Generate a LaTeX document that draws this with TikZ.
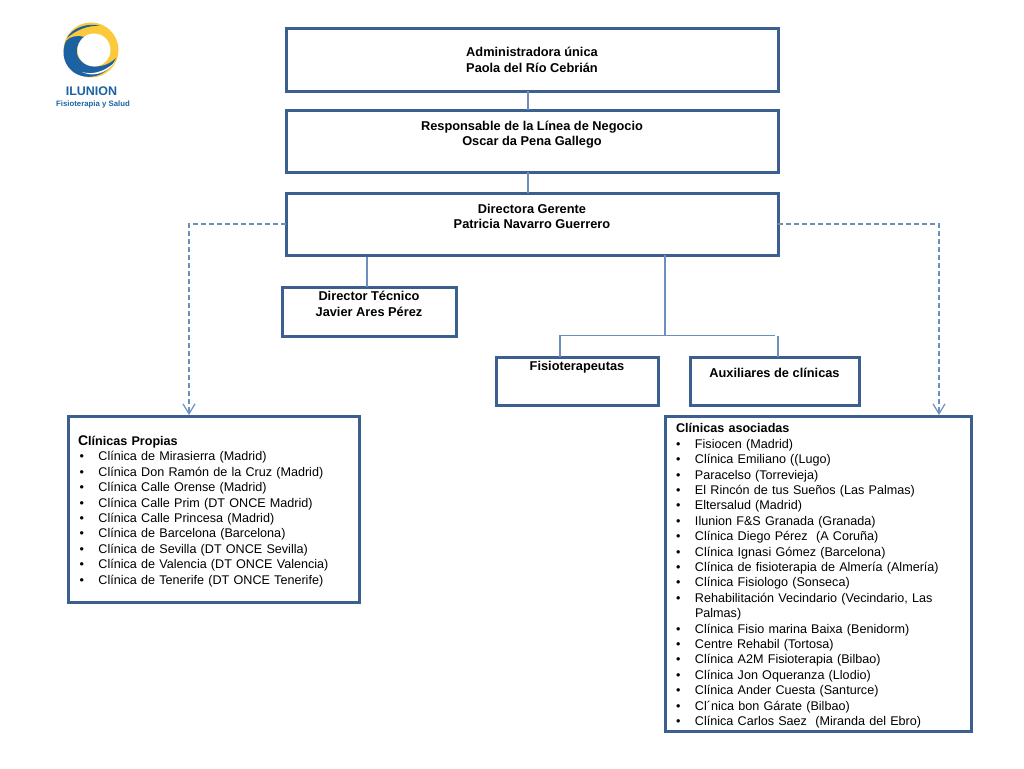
\documentclass[tikz,border=0pt]{standalone}
\usepackage{fontspec}
\setmainfont{Liberation Sans}
\usetikzlibrary{arrows.meta}
\usetikzlibrary{positioning}
\definecolor{boxblue}{HTML}{3B5F8F}
\definecolor{linkblue}{HTML}{6C8FBE}
\definecolor{logoblue}{HTML}{1C62A3}
\definecolor{logoyellow}{HTML}{FBC93A}
\tikzstyle{orgbox}=[draw=boxblue,line width=3pt,align=center,font=\fontsize{12.8}{15.6}\selectfont\bfseries,inner sep=0pt,outer sep=0pt,execute at begin node={\rule{0pt}{13pt}}]
\tikzstyle{listbox}=[orgbox,align=left,font=\fontsize{12.6}{15.4}\selectfont,execute at begin node={\rule{0pt}{14pt}}]
\tikzstyle{link}=[draw=linkblue,line width=1.2pt]
\tikzstyle{dashlink}=[link,dash pattern=on 5pt off 3pt,-{Straight Barb[length=10pt,width=12pt,line width=1.2pt]}]
\newcommand{\bul}{\makebox[19pt][l]{\textbullet}}
\newcommand{\bulp}{\hspace*{1.5pt}\bul}
\begin{document}
\begin{tikzpicture}[x=1pt,y=-1pt]
\useasboundingbox (0,0) rectangle (1024,768);
% logo
\fill[logoyellow] (91,50) circle (27.5);
\fill[logoblue] (66,41) .. controls (62,50) and (62,62) .. (72,71) .. controls (84,81) and (106,79) .. (116,58) .. controls (108,66) and (96,69) .. (85,64) .. controls (74,58) and (74,44) .. (85,37) .. controls (78,35) and (70,36) .. (66,41) -- cycle;
\fill[logoblue] (67,38) .. controls (72,28) and (88,22) .. (100,26) .. controls (88,25) and (76,30) .. (67,38) -- cycle;
\fill[white] (82,72) .. controls (92,75) and (104,72) .. (114,63) .. controls (106,74) and (92,77) .. (82,72) -- cycle;
\fill[white] (94,50) circle (16.5);
\node[font=\fontsize{12.5}{14}\selectfont\bfseries,text=logoblue,inner sep=0pt] (brand) at (91.5,91) {ILUNION};
\node[font=\fontsize{7.8}{9}\selectfont\bfseries,text=logoblue,inner sep=0pt] (brandsub) at (93,104) {Fisioterapia y Salud};

% boxes
\node[orgbox,minimum width=492pt,minimum height=62pt] (admin) at (532,60) {Administradora única\\Paola del Río Cebrián};
\node[orgbox,minimum width=492pt,minimum height=62pt] (resp) at (532,141) {Responsable de la Línea de Negocio\\Oscar da Pena Gallego\\\mbox{}};
\node[orgbox,minimum width=492pt,minimum height=62pt] (dir) at (532,224) {Directora Gerente\\Patricia Navarro Guerrero\\\mbox{}};
\node[orgbox,minimum width=174pt,minimum height=49pt,execute at begin node={\rule{0pt}{15pt}}] (tecnico) at (369,311.5) {Director Técnico\\Javier Ares Pérez\\\mbox{}};
\node[orgbox,minimum width=162pt,minimum height=48pt] (fisio) at (577,381) {Fisioterapeutas\\\mbox{}\\\mbox{}};
\node[orgbox,minimum width=169pt,minimum height=48pt] (aux) at (774.5,381) {Auxiliares de clínicas\\\mbox{}};
\node[listbox,minimum width=291pt,minimum height=186pt,text width=271pt] (propias) at (213.5,509) {%
\textbf{{\fontsize{14}{15.4}\selectfont C}línicas Propias}\\
\bulp Clínica de Mirasierra (Madrid)\\
\bulp Clínica Don Ramón de la Cruz (Madrid)\\
\bulp Clínica Calle Orense (Madrid)\\
\bulp Clínica Calle Prim (DT ONCE Madrid)\\
\bulp Clínica Calle Princesa (Madrid)\\
\bulp Clínica de Barcelona (Barcelona)\\
\bulp Clínica de Sevilla (DT ONCE Sevilla)\\
\bulp Clínica de Valencia (DT ONCE Valencia)\\
\bulp Clínica de Tenerife (DT ONCE Tenerife)};
\node[listbox,minimum width=306pt,minimum height=315pt,text width=284pt] (asociadas) at (818,573.5) {%
\textbf{Clínicas asociadas}\\
\bul Fisiocen (Madrid)\\
\bul Clínica Emiliano ((Lugo)\\
\bul Paracelso (Torrevieja)\\
\bul El Rincón de tus Sueños (Las Palmas)\\
\bul Eltersalud (Madrid)\\
\bul Ilunion F\&S Granada (Granada)\\
\bul Clínica Diego Pérez\ \ (A Coruña)\\
\bul Clínica Ignasi Gómez (Barcelona)\\
\bul Clínica de fisioterapia de Almería (Almería)\\
\bul Clínica Fisiologo (Sonseca)\\
\bul Rehabilitación Vecindario (Vecindario, Las\\
\hspace*{19pt}Palmas)\\
\bul Clínica Fisio marina Baixa (Benidorm)\\
\bul Centre Rehabil (Tortosa)\\
\bul Clínica A2M Fisioterapia (Bilbao)\\
\bul Clínica Jon Oqueranza (Llodio)\\
\bul Clínica Ander Cuesta (Santurce)\\
\bul Cl´nica bon Gárate (Bilbao)\\
\bul Clínica Carlos Saez\ \ (Miranda del Ebro)};

% connectors
\coordinate (topdrop) at (528,91);
\coordinate (tecdrop) at (367,257);
\coordinate (staffdrop) at (665,255);
\coordinate (staffjoin) at (665,335.5);
\coordinate (fisiodrop) at (560,335.5);
\coordinate (auxend) at (775,335.5);
\coordinate (auxdrop) at (778,336);
\coordinate (leftin) at (189,415);
\coordinate (rightin) at (939,415);
\draw[link] (topdrop) -- (topdrop |- resp.north);
\draw[link] (topdrop |- resp.south) -- (topdrop |- dir.north);
\draw[link] (tecdrop) -- (tecdrop |- tecnico.north);
\draw[link] (staffdrop) -- (staffjoin);
\draw[link] (fisiodrop |- fisio.north) -- (fisiodrop) -- (auxend);
\draw[link] (auxdrop) -- (auxdrop |- aux.north);
\draw[dashlink] (dir.west) -| (leftin);
\draw[dashlink] (dir.east) -| (rightin);
\end{tikzpicture}
\end{document}
